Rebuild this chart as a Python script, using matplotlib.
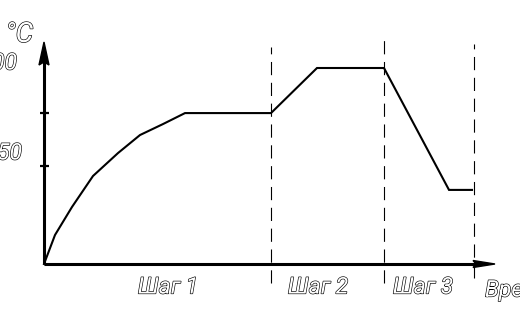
import matplotlib.pyplot as plt
import matplotlib.patheffects as pe

# heating schedule (schematic), time in arbitrary units, temperature in °C
time = [0, 1.1, 2.8, 4.9, 7.4, 9.6, 11.9, 14.1, 22.7, 27.3, 34.0, 40.5, 42.8]
temp = [0, 14.8, 29.1, 44.9, 56.6, 65.8, 71.4, 77.0, 77.0, 100, 100, 37.8, 37.8]

step_ends = [22.7, 34.0, 43.0]
step_names = ['Шаг 1', 'Шаг 2', 'Шаг 3']
y_marks = [50, 77]
y_labels = ['50', '100']

plt.rcParams['lines.scale_dashes'] = False

fig = plt.figure(figsize=(5.2, 3.17), dpi=100)
ax = fig.add_axes([0, 0, 1, 1])
# 1 time unit = 10 px, 50 degC = 98 px, origin at pixel (44, 264)
ax.set_xlim(-4.4, 47.6)
ax.set_ylim(-(317 - 264) * 50 / 98, 264 * 50 / 98)
ax.axis('off')

px = 0.1          # one pixel in x data units
py = 50 / 98      # one pixel in y data units

# axes with arrows
ax.plot([0, 0], [0, 105], color='black', lw=2.2, solid_capstyle='butt')
ax.plot([0, 45.1 - 20 * px], [0, 0], color='black', lw=2.2, solid_capstyle='butt')
tip_y = (264 - 42) * py
ax.fill([-5 * px, 0, 5 * px, 0], [tip_y - 23 * py, tip_y, tip_y - 23 * py, tip_y - 20 * py],
        color='black', lw=1)
ax.fill([45.1 - 22 * px, 45.1, 45.1 - 22 * px, 45.1 - 19 * px], [3.5 * py, 0, -3.5 * py, 0],
        color='black', lw=1)

# tick marks on the temperature axis
for v in y_marks:
    ax.plot([-4 * px, 5 * px], [v, v], color='black', lw=1.6, solid_capstyle='butt')

# step boundaries
tops = [110.7, 114.8, 112.2]
bottoms = [-9.7, -9.7, -7.1]
for t, top, bot in zip(step_ends, tops, bottoms):
    ax.plot([t, t], [bot, top], color='black', lw=0.8, dashes=(9.5, 5.5))

# temperature curve
ax.plot(time, temp, color='black', lw=1.5, solid_joinstyle='miter')

font = dict(family=['Roboto', 'DejaVu Sans'], style='italic',
            fontsize=16.5, color='white',
            path_effects=[pe.withStroke(linewidth=0.9, foreground='black')])

label_t = [12.4, 27.4, 37.9]
for t, name in zip(label_t, step_names):
    ax.text(t, -23 * py, name, ha='center', va='center', **font)
ax.text(44.1, -26 * py, 'Время', ha='left', va='center', **font)

# value labels sit a little above their marks
ax.text(-2.2, 50 + 13 * py, y_labels[0], ha='right', va='center', **font)
ax.text(-2.7, 100 + 5 * py, y_labels[1], ha='right', va='center', **font)
ax.text(-1.1, (264 - 35) * py, '°C', ha='right', va='center', **{**font, 'fontsize': 20})

fig.savefig('out.png', dpi=100)
